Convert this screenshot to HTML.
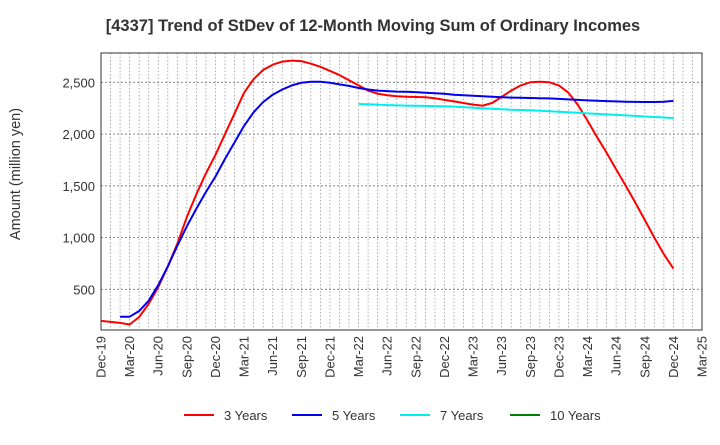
<!DOCTYPE html>
<html><head><meta charset="utf-8"><style>
body{margin:0;background:#fff;font-family:"Liberation Sans",sans-serif;}
</style></head><body>
<svg width="720" height="440" xmlns="http://www.w3.org/2000/svg" font-family="Liberation Sans, sans-serif">
<rect width="720" height="440" fill="#fff"/>
<text x="373" y="31" text-anchor="middle" font-size="16.5" font-weight="bold" fill="#333">[4337]  Trend of StDev of 12-Month Moving Sum of Ordinary Incomes</text>
<text transform="translate(20,174) rotate(-90)" text-anchor="middle" font-size="14.5" fill="#333">Amount (million yen)</text>
<g id="grid"></g><g id="axes"></g><g id="series"></g><g id="legend"></g>
</svg>
<script>
const xTicks=["Dec-19","Mar-20","Jun-20","Sep-20","Dec-20","Mar-21","Jun-21","Sep-21","Dec-21","Mar-22","Jun-22","Sep-22","Dec-22","Mar-23","Jun-23","Sep-23","Dec-23","Mar-24","Jun-24","Sep-24","Dec-24","Mar-25"];
const yTicks=[500,1000,1500,2000,2500];
const seriesNames=["3 Years","5 Years","7 Years","10 Years"];
const seriesColors=["#ff0000","#0000ee","#00eeee","#008000"];
const y3=[195,185,175,160,232,360,520,720,940,1200,1420,1620,1800,2000,2200,2400,2530,2620,2670,2700,2710,2705,2680,2650,2610,2570,2520,2470,2420,2390,2375,2365,2360,2358,2355,2345,2330,2315,2300,2285,2275,2300,2360,2420,2470,2500,2505,2500,2470,2400,2280,2130,1970,1820,1660,1500,1340,1170,1000,840,700];
const y5=[null,null,235,235,290,390,540,720,920,1110,1280,1440,1590,1760,1920,2080,2210,2310,2380,2430,2470,2495,2505,2505,2495,2480,2465,2445,2430,2420,2415,2410,2408,2405,2400,2395,2390,2380,2375,2370,2365,2360,2355,2352,2350,2348,2346,2344,2340,2335,2330,2325,2322,2318,2315,2313,2311,2310,2310,2313,2320];
const y7=[null,null,null,null,null,null,null,null,null,null,null,null,null,null,null,null,null,null,null,null,null,null,null,null,null,null,null,2290,2288,2285,2280,2277,2275,2273,2272,2270,2268,2265,2260,2255,2250,2245,2240,2235,2232,2230,2225,2220,2215,2210,2205,2200,2195,2190,2185,2180,2175,2170,2165,2160,2155];
const y10=[];
const NS="http://www.w3.org/2000/svg";
const L=101,R=702,T=53,B=330,nMonths=63;
const xs=i=>L+(R-L)*i/nMonths;
const ys=v=>289.3-(v-500)*0.1035;
function mk(t,a,p){const e=document.createElementNS(NS,t);for(const k in a)e.setAttribute(k,a[k]);document.getElementById(p).appendChild(e);return e;}
for(let i=1;i<nMonths;i++){const l=mk('line',{x1:xs(i),x2:xs(i),y1:T,y2:B,stroke:'#999','stroke-dasharray':'1.5,2','stroke-width':0.8},'grid');

}
yTicks.forEach(v=>{const l=mk('line',{x1:L,x2:R,y1:ys(v),y2:ys(v),stroke:'#777','stroke-dasharray':'2,2','stroke-width':0.9},'grid');


const t=mk('text',{x:L-6,y:ys(v)+5,'text-anchor':'end','font-size':13,fill:'#333'},'axes');t.textContent=v.toLocaleString('en-US');

});
const fr=mk('rect',{x:L,y:T,width:R-L,height:B-T,fill:'none',stroke:'#333','stroke-width':1},'axes');


xTicks.forEach((s,i)=>{const x=xs(i*3);const t=mk('text',{transform:`translate(${x+4.5},${B+6}) rotate(-90)`,'text-anchor':'end','font-size':13,fill:'#333'},'axes');t.textContent=s;

});
[y3,y5,y7,y10].forEach((arr,si)=>{let d='';let pen=false;arr.forEach((v,i)=>{if(v==null){pen=false;return;}d+=(pen?'L':'M')+xs(i).toFixed(1)+','+ys(v).toFixed(1);pen=true;});
if(d){const p=mk('path',{d:d,fill:'none',stroke:seriesColors[si],'stroke-width':2,'stroke-linejoin':'round'},'series');

}});
const lx=[184,292,400,510];
seriesNames.forEach((n,i)=>{const g=mk('g',{},'legend');


const l=document.createElementNS(NS,'line');l.setAttribute('x1',lx[i]);l.setAttribute('x2',lx[i]+30);l.setAttribute('y1',415);l.setAttribute('y2',415);l.setAttribute('stroke',seriesColors[i]);l.setAttribute('stroke-width',2);g.appendChild(l);
const t=document.createElementNS(NS,'text');t.setAttribute('x',lx[i]+40);t.setAttribute('y',420);t.setAttribute('font-size',13);t.setAttribute('fill','#333');t.textContent=n;g.appendChild(t);});
</script>
</body></html>
